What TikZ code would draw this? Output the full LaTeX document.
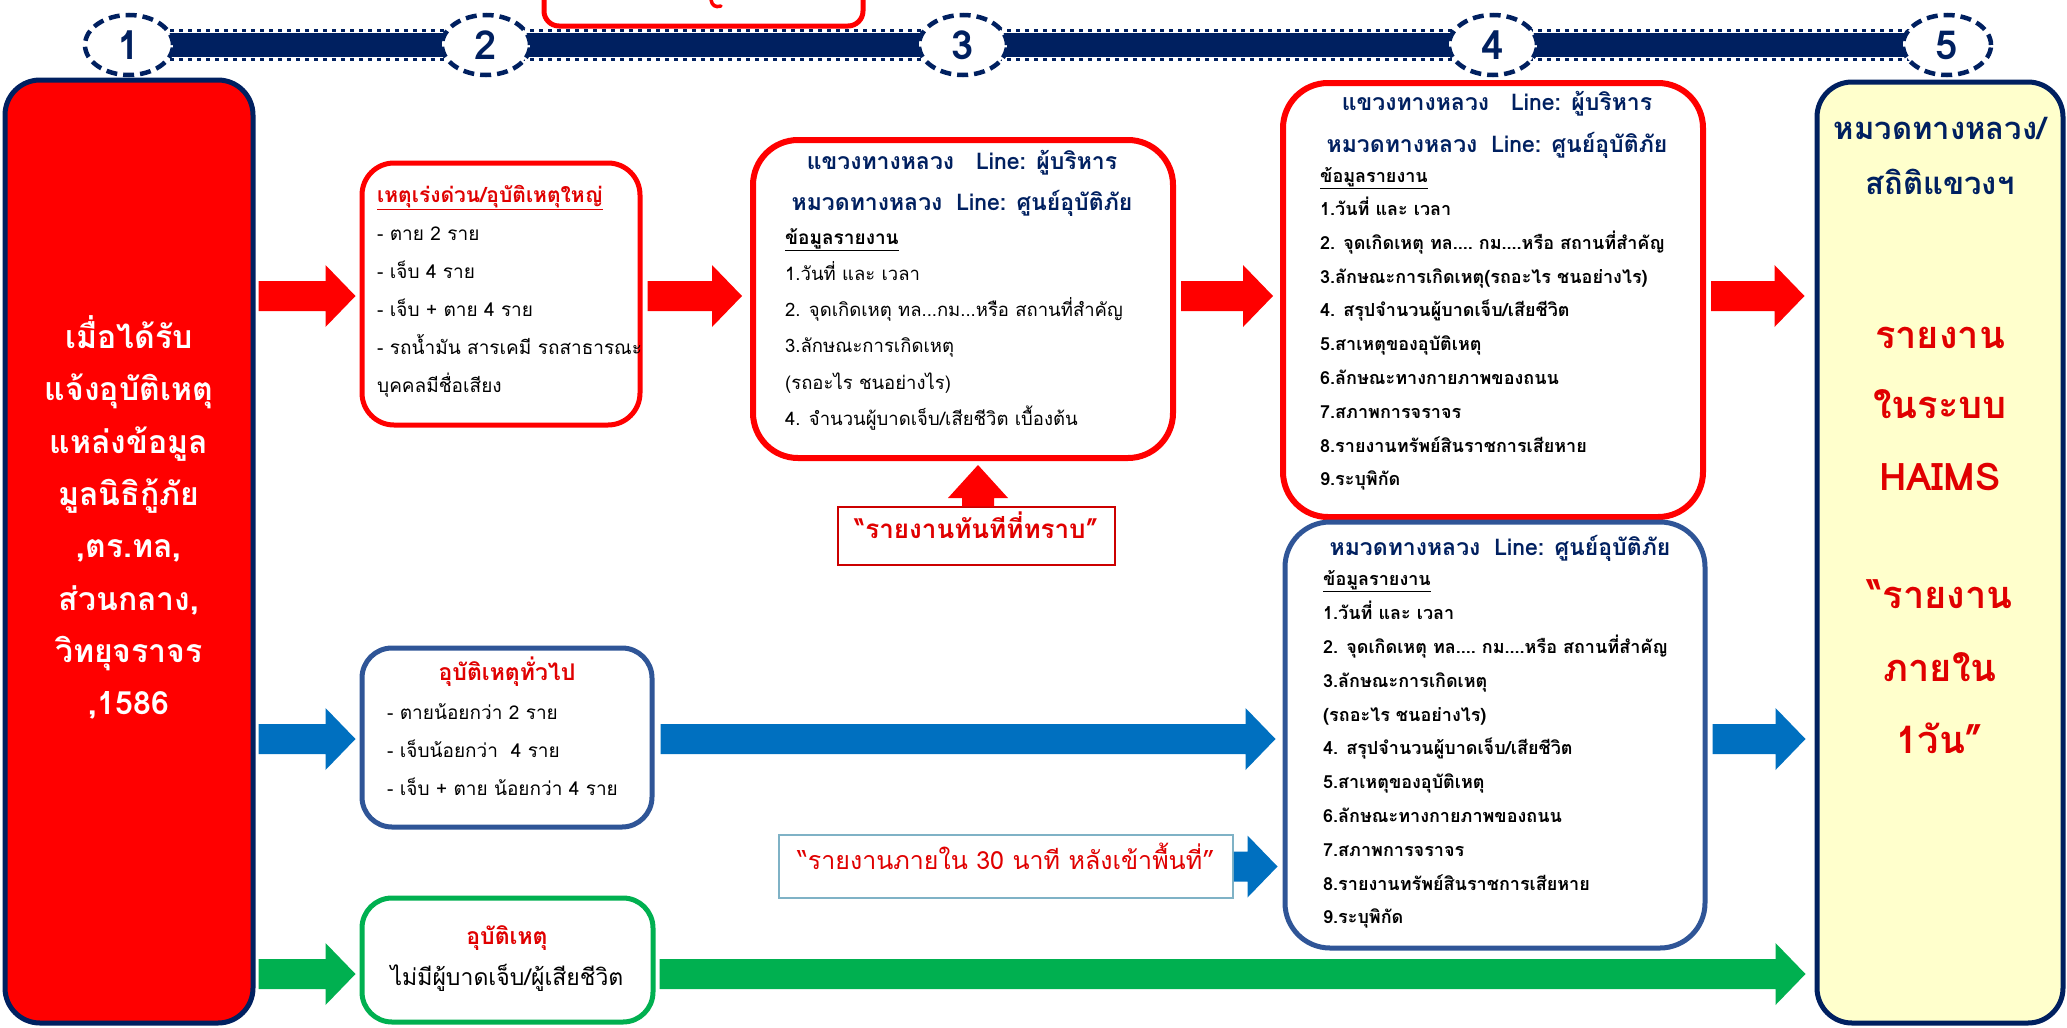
\documentclass[tikz,border=0pt]{standalone}
\usepackage{fontspec}
\setmainfont[Script=Thai]{Loma}
\usetikzlibrary{calc,shapes.geometric}
\definecolor{navy}{HTML}{002060}
\definecolor{rd}{HTML}{FF0000}
\definecolor{tred}{HTML}{E00000}
\definecolor{ablue}{HTML}{0070C0}
\definecolor{grn}{HTML}{00B050}
\definecolor{bblue}{HTML}{2F5597}
\definecolor{ylw}{HTML}{FFFFCC}
\definecolor{lblc}{HTML}{7FB2C6}
\newcommand\myfs[1]{\fontsize{#1}{#1}\selectfont}
\newcommand\ddd{...}
\tikzset{
  bx/.style={rectangle, inner sep=0pt},
  lt/.style={inner sep=0pt, anchor=mid west},
  ct/.style={inner sep=0pt, anchor=mid},
  harrow/.style={to path={($(\tikztostart)+(0,-15)$) -- ($(\tikztotarget)+(-30,-15)$) -- ($(\tikztotarget)+(-30,-31)$) -- (\tikztotarget) -- ($(\tikztotarget)+(-30,31)$) -- ($(\tikztotarget)+(-30,15)$) -- ($(\tikztostart)+(0,15)$) -- cycle}},
  varrow/.style={to path={($(\tikztostart)+(-16,0)$) -- ($(\tikztotarget)+(-16,33)$) -- ($(\tikztotarget)+(-30,33)$) -- (\tikztotarget) -- ($(\tikztotarget)+(30,33)$) -- ($(\tikztotarget)+(16,33)$) -- ($(\tikztostart)+(16,0)$) -- cycle}},
  stepc/.style={ellipse, draw=navy, line width=4.5pt, dash pattern=on 11pt off 6pt, fill=white, minimum width=88pt, minimum height=60pt, inner sep=0pt, font=\bfseries\myfs{40}, text=navy},
}
\begin{document}
\begin{tikzpicture}[x=1pt,y=-1pt]
\useasboundingbox (0,0) rectangle (2067,1028);
\fill[white] (0,0) rectangle (2067,1028);
\clip (0,0) rectangle (2067,1028);

% partial top box
\node[bx, draw=rd, line width=5pt, rounded corners=15pt, minimum width=319pt, minimum height=66pt] (topbox) at (703.5,-7) {};
\draw[rd, line width=3.5pt, line cap=round] (711,0) .. controls (712,5) and (715,8) .. (721,6);

% timeline
\coordinate (t1) at (129,45);
\coordinate (t5) at (1947,45);
\draw[navy, line width=32pt] (t1) -- (t5);
\draw[white, line width=0.8pt] ($(t1)+(0,-12.5)$) -- ($(t5)+(0,-12.5)$);
\draw[white, line width=0.8pt] ($(t1)+(0,12.5)$) -- ($(t5)+(0,12.5)$);
\draw[white, line width=3pt, dash pattern=on 5pt off 4pt] ($(t1)+(0,-14.6)$) -- ($(t5)+(0,-14.6)$);
\draw[white, line width=3pt, dash pattern=on 5pt off 4pt] ($(t1)+(0,14.6)$) -- ($(t5)+(0,14.6)$);
\node[stepc] (c1) at (t1) {1};
\node[stepc] (c2) at (486,45) {2};
\node[stepc] (c3) at (963,45) {3};
\node[stepc] (c4) at (1493,45) {4};
\node[stepc] (c5) at (t5) {5};

% boxes
\node[bx, fill=rd, draw=navy, line width=5pt, rounded corners=35pt, minimum width=248pt, minimum height=943pt] (src) at (129,551.5) {};
\node[bx, draw=rd, line width=5pt, rounded corners=32pt, minimum width=278pt, minimum height=262pt] (b2) at (501,294) {};
\node[bx, draw=rd, line width=6pt, rounded corners=45pt, minimum width=420pt, minimum height=318pt] (b3) at (963,299) {};
\node[bx, draw=rd, line width=6pt, rounded corners=45pt, minimum width=420pt, minimum height=434pt] (b4) at (1493,300) {};
\node[bx, draw=bblue, line width=5pt, rounded corners=45pt, minimum width=420pt, minimum height=426pt] (b5) at (1495,735) {};
\node[bx, draw=bblue, line width=5pt, rounded corners=30pt, minimum width=290pt, minimum height=179pt] (b2b) at (507,737.5) {};
\node[bx, draw=grn, line width=5pt, rounded corners=30pt, minimum width=291pt, minimum height=124pt] (g) at (507.5,960) {};
\node[bx, fill=ylw, draw=navy, line width=5pt, rounded corners=35pt, minimum width=246pt, minimum height=941pt] (yb) at (1940,552.5) {};
\node[bx, draw=rd!80!black, line width=1.5pt, minimum width=277pt, minimum height=58pt] (lbl1) at (976.5,536) {};
\node[bx, draw=lblc, line width=1.5pt, minimum width=454pt, minimum height=63pt] (lbl2) at (1006,866.5) {};

% rows
\coordinate (rowR) at (0,296);
\coordinate (rowB) at (0,739);
\coordinate (rowG) at (0,974);

% arrows
\fill[rd] ($(src.east |- rowR)+(3,0)$) to[harrow] ($(b2.west |- rowR)+(-4,0)$);
\fill[rd] ($(b2.east |- rowR)+(5,0)$) to[harrow] ($(b3.west |- rowR)+(-8,0)$);
\fill[rd] ($(b3.east |- rowR)+(5,0)$) to[harrow] ($(b4.west |- rowR)+(-7,0)$);
\fill[rd] ($(b4.east |- rowR)+(5,0)$) to[harrow] ($(yb.west |- rowR)+(-10,0)$);
\fill[ablue] ($(src.east |- rowB)+(3,0)$) to[harrow] ($(b2b.west |- rowB)+(-4,0)$);
\fill[ablue] ($(b2b.east |- rowB)+(6,0)$) to[harrow] ($(b5.west |- rowB)+(-7,0)$);
\fill[ablue] (lbl2.east) to[harrow] ($(b5.west |- lbl2.east)+(-5,0)$);
\fill[ablue] ($(b5.east |- rowB)+(5,0)$) to[harrow] ($(yb.west |- rowB)+(-9,0)$);
\fill[grn] ($(src.east |- rowG)+(3,0)$) to[harrow] ($(g.west |- rowG)+(-4,0)$);
\fill[grn] ($(g.east |- rowG)+(4,0)$) to[harrow] ($(yb.west |- rowG)+(-9,0)$);
\fill[rd] ($(lbl1.north)+(1.5,0)$) to[varrow] ($(b3.south)+(15,4)$);

% left box text
\foreach \txt [count=\i from 0] in {{เมื่อได้รับ},{แจ้งอุบัติเหตุ},{แหล่งข้อมูล},{มูลนิธิกู้ภัย},{,ตร.ทล,},{ส่วนกลาง,},{วิทยุจราจร},{,1586}}
  \node[ct, text=white, font=\bfseries\myfs{32}] (s\i) at (129,346+52.3*\i) {\txt};

% box 2 text
\node[lt, text=tred, font=\bfseries\myfs{21}] (b2t) at (377,200) {\underline{เหตุเร่งด่วน/อุบัติเหตุใหญ่}};
\foreach \txt [count=\i from 0] in {{- ตาย 2 ราย},{- เจ็บ 4 ราย},{- เจ็บ + ตาย 4 ราย},{- รถน้ำมัน สารเคมี รถสาธารณะ},{บุคคลมีชื่อเสียง}}
  \node[lt, font=\myfs{19}] (b2l\i) at (377,238+38*\i) {\txt};

% box 3 text
\node[ct, text=navy, font=\bfseries\myfs{23}] (b3t1) at (962,167) {แขวงทางหลวง\hspace{22pt}Line: ผู้บริหาร};
\node[ct, text=navy, font=\bfseries\myfs{23}] (b3t2) at (962,208) {หมวดทางหลวง\hspace{14pt}Line: ศูนย์อุบัติภัย};
\node[lt, font=\bfseries\myfs{19}] (b3h) at (785,242) {\underline{ข้อมูลรายงาน}};
\foreach \txt [count=\i from 0] in {{1.วันที่ และ เวลา},{2. จุดเกิดเหตุ ทล\ddd กม\ddd หรือ สถานที่สำคัญ},{3.ลักษณะการเกิดเหตุ},{(รถอะไร ชนอย่างไร)},{4. จำนวนผู้บาดเจ็บ/เสียชีวิต เบื้องต้น}}
  \node[lt, font=\myfs{18.5}] (b3l\i) at (785,278+36.2*\i) {\txt};
\node[ct, text=tred, font=\bfseries\myfs{26}] (lbl1t) at (lbl1) {“รายงานทันทีที่ทราบ”};

% box 4 text
\node[ct, text=navy, font=\bfseries\myfs{23}] (b4t1) at (1497,108) {แขวงทางหลวง\hspace{22pt}Line: ผู้บริหาร};
\node[ct, text=navy, font=\bfseries\myfs{23}] (b4t2) at (1497,150) {หมวดทางหลวง\hspace{14pt}Line: ศูนย์อุบัติภัย};
\node[lt, font=\bfseries\myfs{18}] (b4h) at (1320,180) {\underline{ข้อมูลรายงาน}};
\foreach \txt [count=\i from 0] in {{1.วันที่ และ เวลา},{2. จุดเกิดเหตุ ทล.\ddd\ กม.\ddd หรือ สถานที่สำคัญ},{3.ลักษณะการเกิดเหตุ(รถอะไร ชนอย่างไร)},{4. สรุปจำนวนผู้บาดเจ็บ/เสียชีวิต},{5.สาเหตุของอุบัติเหตุ},{6.ลักษณะทางกายภาพของถนน},{7.สภาพการจราจร},{8.รายงานทรัพย์สินราชการเสียหาย},{9.ระบุพิกัด}}
  \node[lt, font=\bfseries\myfs{18}] (b4l\i) at (1320,213+33.8*\i) {\txt};

% box 5 text
\node[ct, text=navy, font=\bfseries\myfs{23}] (b5t) at (1500,553) {หมวดทางหลวง\hspace{14pt}Line: ศูนย์อุบัติภัย};
\node[lt, font=\bfseries\myfs{18}] (b5h) at (1323,583) {\underline{ข้อมูลรายงาน}};
\foreach \txt [count=\i from 0] in {{1.วันที่ และ เวลา},{2. จุดเกิดเหตุ ทล.\ddd\ กม.\ddd หรือ สถานที่สำคัญ},{3.ลักษณะการเกิดเหตุ},{(รถอะไร ชนอย่างไร)},{4. สรุปจำนวนผู้บาดเจ็บ/เสียชีวิต},{5.สาเหตุของอุบัติเหตุ},{6.ลักษณะทางกายภาพของถนน},{7.สภาพการจราจร},{8.รายงานทรัพย์สินราชการเสียหาย},{9.ระบุพิกัด}}
  \node[lt, font=\bfseries\myfs{18}] (b5l\i) at (1323,617+33.8*\i) {\txt};

% blue box 2b text
\node[ct, text=tred, font=\bfseries\myfs{23}] (b2bt) at (507,678) {อุบัติเหตุทั่วไป};
\foreach \txt [count=\i from 0] in {{- ตายน้อยกว่า 2 ราย},{- เจ็บน้อยกว่า\ \ 4 ราย},{- เจ็บ + ตาย น้อยกว่า 4 ราย}}
  \node[lt, font=\myfs{19}] (b2bl\i) at (387,717+38*\i) {\txt};

% green box text
\node[ct, text=tred, font=\bfseries\myfs{23}] (gt) at (507,942) {อุบัติเหตุ};
\node[ct, font=\myfs{23}] (gl) at (507,983) {ไม่มีผู้บาดเจ็บ/ผู้เสียชีวิต};

% label 2 text
\node[ct, text=tred, font=\myfs{25}] (lbl2t) at (lbl2) {“รายงานภายใน 30 นาที หลังเข้าพื้นที่”};

% yellow box text
\node[ct, text=navy, font=\bfseries\myfs{31}] (y1) at (1940,137) {หมวดทางหลวง/};
\node[ct, text=navy, font=\bfseries\myfs{31}] (y2) at (1940,192) {สถิติแขวงฯ};
\foreach \txt/\yy [count=\i] in {รายงาน/346,ในระบบ/416,HAIMS/488,“รายงาน/606,ภายใน/679,1วัน”/751}
  \node[ct, text=tred, font=\bfseries\myfs{38}] (yr\i) at (1940,\yy) {\txt};
\end{tikzpicture}
\end{document}
